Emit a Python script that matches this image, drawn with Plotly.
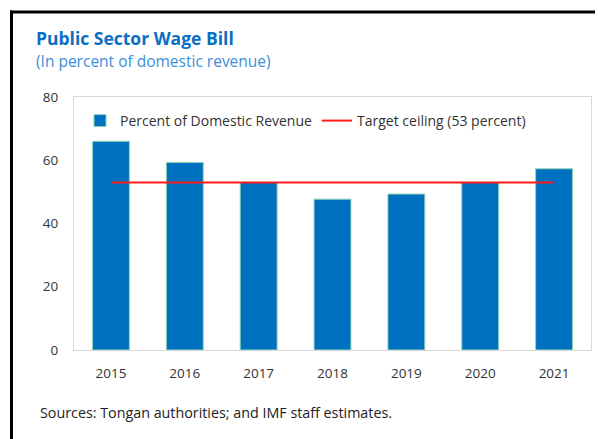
import plotly.graph_objects as go

years = ["2015", "2016", "2017", "2018", "2019", "2020", "2021"]
wage_bill = [66.0, 59.3, 53.0, 47.7, 49.3, 53.0, 57.3]
target = [53, 53, 53, 53, 53, 53, 53]
y_ticks = [0, 20, 40, 60, 80]

# the page body has an 8px margin, so the figure is drawn 8px in from the window edge
OFF = 8
W, H = 603 - OFF, 439 - OFF
L, R, T, B = 74 - OFF, 591 - OFF, 97 - OFF, 350 - OFF


def px(x):  # page x -> paper
    return (x - OFF - L) / (R - L)


def py(y):  # page y -> paper
    return (B - (y - OFF)) / (B - T)


FONT = "Open Sans"

fig = go.Figure()
fig.add_trace(go.Bar(
    x=years, y=wage_bill, name="Percent of Domestic Revenue",
    marker=dict(color="#0070C0", line=dict(color="#8fd6b6", width=1)),
))
fig.add_trace(go.Scatter(
    x=years, y=target, name="Target ceiling (53 percent)", mode="lines",
    line=dict(color="#ff1a1a", width=2),
))

shapes = [
    dict(type="line", xref="paper", yref="paper", x0=px(10), x1=px(603), y0=py(12), y1=py(12),
         line=dict(color="black", width=3)),
    dict(type="line", xref="paper", yref="paper", x0=px(11.5), x1=px(11.5), y0=py(10.5), y1=py(439),
         line=dict(color="black", width=3)),
]

annotations = [
    dict(text="<b>Public Sector Wage Bill</b>", xref="paper", yref="paper", x=px(34), y=py(38),
         xanchor="left", yanchor="middle", showarrow=False,
         font=dict(family=FONT, size=17.5, color="#0a6fc2")),
    dict(text="(In percent of domestic revenue)", xref="paper", yref="paper", x=px(34), y=py(61),
         xanchor="left", yanchor="middle", showarrow=False,
         font=dict(family=FONT, size=15.5, color="#3b8fd9")),
    dict(text="Sources: Tongan authorities; and IMF staff estimates.", xref="paper", yref="paper",
         x=px(38), y=py(412), xanchor="left", yanchor="middle", showarrow=False,
         font=dict(family=FONT, size=14.3, color="#222222")),
]

fig.update_layout(
    width=W, height=H,
    margin=dict(l=L, r=W - R, t=T, b=H - B, pad=0),
    paper_bgcolor="white", plot_bgcolor="white",
    font=dict(family=FONT, size=13, color="#333333"),
    bargap=0.5,
    showlegend=True,
    legend=dict(orientation="h", x=px(80), y=py(121), xanchor="left", yanchor="middle",
                bgcolor="rgba(0,0,0,0)", font=dict(family=FONT, size=14, color="#333333"),
                itemwidth=30, tracegroupgap=0),
    shapes=shapes, annotations=annotations,
)
fig.update_xaxes(type="category", showline=True, linecolor="#d9d9d9", linewidth=1, mirror=True,
                 showgrid=False, ticks="outside", ticklen=11, tickcolor="rgba(0,0,0,0)",
                 tickfont=dict(family=FONT, size=13.5, color="#333333"))
fig.update_yaxes(range=[0, 80], tickvals=y_ticks, showline=True, linecolor="#d9d9d9", linewidth=1,
                 mirror=True, showgrid=False, zeroline=False, ticks="outside", ticklen=12,
                 tickcolor="rgba(0,0,0,0)", tickfont=dict(family=FONT, size=13.5, color="#333333"))

fig.write_html("out.html")
